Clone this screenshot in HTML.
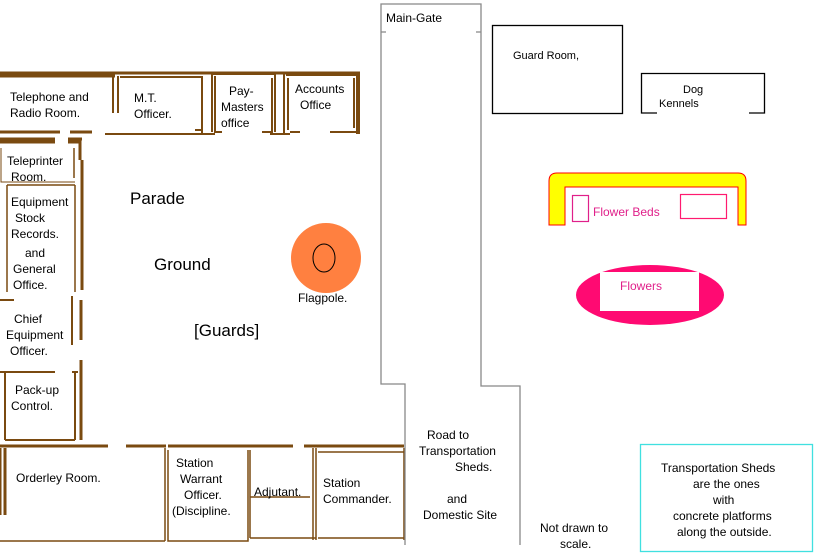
<!DOCTYPE html>
<html><head><meta charset="utf-8"><style>
html,body{margin:0;padding:0;background:#fff;}
svg{display:block;font-family:"Liberation Sans",sans-serif;}
</style></head><body>
<svg width="816" height="560" viewBox="0 0 816 560" xmlns="http://www.w3.org/2000/svg">
<rect width="816" height="560" fill="#fff"/>
<g fill="none" stroke="#7a4a10">
 <path d="M0 73 H360 M0 76 H115" stroke-width="3"/>
 <path d="M358 73 V134" stroke-width="4"/>
 <path d="M113 76 V113 M118 76 V113" stroke-width="2"/>
 <path d="M0 132 H60 M70 132 H92" stroke-width="3"/>
 <path d="M120 77 H202 V133 M105 134 H215 M195 130 H202" stroke-width="2"/>
 <path d="M212 73 V132 M215 76 V132 H222 M212 74 H275 M275 74 V132 M272 78 V132 H262" stroke-width="2"/>
 <path d="M284 73 V134 M288 78 V130 M286 75 H356 M354 78 V128 M290 132 H300 M330 132 H356 M270 134 H290" stroke-width="2"/>
 <path d="M0 139 H55 M0 142 H55 M68 139 H82 M68 142 H80" stroke-width="3"/>
 <path d="M80 140 V160 M82 160 V290 M81 300 V340 M81 360 V440" stroke-width="3"/>
 <path d="M74 148 V178 M75 185 V292 M7 185 H75 M7 185 V292" stroke-width="1.5"/>
 <path d="M1 148 V182 H75" stroke-width="1"/>
 <path d="M0 300 H14 M72 296 V345 M0 372 H55 M72 372 H78 M5 372 V440 M75 372 V440 M5 440 H75" stroke-width="2"/>
 <path d="M0 446 H108 M126 446 H166 M168 446 H293 M304 446 H404 M0 448 V515 M5 448 V515" stroke-width="3"/>
 <path d="M0 541 H165 M165 448 V541 M168 450 V541 H248 V450 M250 450 V538 M250 538 H316 M250 497 H310 M313 448 V540 M316 448 V540 M318 452 H404 M404 448 V540 M318 538 H404" stroke-width="1.5"/>
</g>
<g fill="none" stroke="#888" stroke-width="1.3">
 <path d="M405 545 V384 H381 V4 H481 V386 H520 V545"/>
 <path d="M381 32 H386 M476 32 H481"/>
</g>
<rect x="492.5" y="25.5" width="130" height="88" fill="none" stroke="#000" stroke-width="1.3"/>
<path d="M657 113 H641.5 V73.5 H764.5 V113 H749" fill="none" stroke="#000" stroke-width="1.3"/>
<path d="M549 225 V181 Q549 173 557 173 H738 Q746 173 746 181 V225 H738 V187 H565 V225 Z" fill="#ffff00" stroke="#f00" stroke-width="1"/>
<rect x="572.5" y="195.5" width="16" height="26" fill="none" stroke="#e0208a" stroke-width="1.2"/>
<rect x="680.5" y="194.5" width="46" height="24" fill="none" stroke="#ff1a70" stroke-width="1.2"/>
<ellipse cx="650" cy="295" rx="74" ry="30" fill="#ff0a72"/>
<rect x="600" y="272" width="99" height="39" fill="#fff"/>
<circle cx="326" cy="258" r="35" fill="#ff8040"/>
<ellipse cx="324" cy="258" rx="11" ry="14" fill="none" stroke="#000" stroke-width="1"/>
<rect x="640.5" y="444.5" width="172" height="107" fill="none" stroke="#40e0e0" stroke-width="1.3"/>
<g font-size="12" fill="#000">
 <text x="10" y="101">Telephone and</text><text x="10" y="117">Radio Room.</text>
 <text x="134" y="102">M.T.</text><text x="134" y="118">Officer.</text>
 <text x="229" y="95">Pay-</text><text x="221" y="111">Masters</text><text x="221" y="127">office</text>
 <text x="295" y="93">Accounts</text><text x="300" y="109">Office</text>
 <text x="7" y="165">Teleprinter</text><text x="11" y="181">Room.</text>
 <text x="11" y="206">Equipment</text><text x="15" y="222">Stock</text><text x="11" y="238">Records.</text>
 <text x="25" y="257">and</text><text x="13" y="273">General</text><text x="13" y="289">Office.</text>
 <text x="14" y="323">Chief</text><text x="6" y="339">Equipment</text><text x="10" y="355">Officer.</text>
 <text x="15" y="394">Pack-up</text><text x="11" y="410">Control.</text>
 <text x="16" y="482">Orderley Room.</text>
 <text x="176" y="467">Station</text><text x="180" y="483">Warrant</text><text x="184" y="499">Officer.</text><text x="172" y="515">(Discipline.</text>
 <text x="254" y="496">Adjutant.</text>
 <text x="323" y="487">Station</text><text x="323" y="503">Commander.</text>
 <text x="298" y="302">Flagpole.</text>
 <text x="386" y="22">Main-Gate</text>
 <text x="427" y="439">Road to</text><text x="419" y="455">Transportation</text><text x="455" y="471">Sheds.</text>
 <text x="447" y="503">and</text><text x="423" y="519">Domestic Site</text>
 <text x="540" y="532">Not drawn to</text><text x="560" y="548">scale.</text>
 <text x="661" y="472">Transportation Sheds</text><text x="693" y="488">are the ones</text>
 <text x="713" y="504">with</text><text x="673" y="520">concrete platforms</text><text x="677" y="536">along the outside.</text>
</g>
<g font-size="11" fill="#000">
 <text x="513" y="59">Guard Room,</text>
 <text x="683" y="93">Dog</text><text x="659" y="107">Kennels</text>
</g>
<g font-size="12" fill="#e0208a">
 <text x="593" y="216">Flower Beds</text>
 <text x="620" y="290">Flowers</text>
</g>
<g font-size="17" fill="#000">
 <text x="130" y="204">Parade</text>
 <text x="154" y="270">Ground</text>
 <text x="194" y="336">[Guards]</text>
</g>
</svg>
</body></html>
